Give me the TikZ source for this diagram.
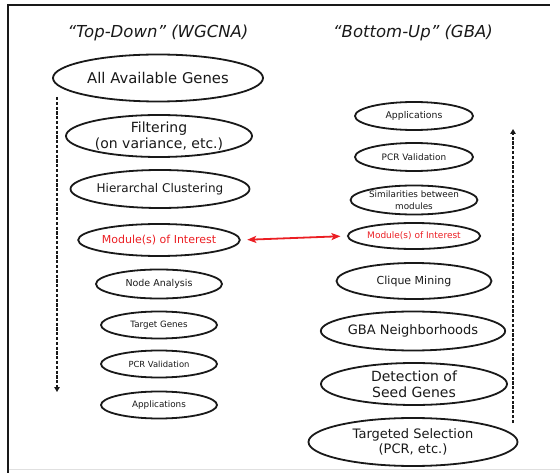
\documentclass[tikz,border=0pt]{standalone}
\usepackage{fontspec}
\setmainfont{DejaVu Sans}
\usetikzlibrary{shapes.geometric,arrows.meta}
\definecolor{ink}{RGB}{25,25,25}
\definecolor{myred}{RGB}{235,30,35}
\tikzset{
  ov/.style args={#1/#2}{ellipse, draw=ink, line width=1.8pt, inner sep=0pt,
    minimum width=#1pt, minimum height=#2pt, align=center, text=ink},
  flowarrow/.style={draw=ink, line width=1.7pt, dash pattern=on 3.2pt off 1.6pt,
    -{Triangle[length=5pt,width=5.5pt]}},
  redarrow/.style={draw=myred, line width=1.8pt,
    {Stealth[length=9pt,width=7pt,inset=2pt]}-{Stealth[length=9pt,width=7pt,inset=2pt]}},
}
\begin{document}
\begin{tikzpicture}[x=1pt,y=-1pt]
\useasboundingbox (0,0) rectangle (560,473);
% frame
\draw[line width=2pt, ink] (7.5,473) -- (7.5,5.5) -- (550,5.5);
\draw[line width=0.6pt, black!12] (8.5,469) -- (560,469);
% titles
\node[text=ink, font=\fontsize{16.5}{18}\selectfont\itshape] (tl) at (158,33) {“Top-Down” (WGCNA)};
\node[text=ink, font=\fontsize{16.5}{18}\selectfont\itshape] (tr) at (413,33) {“Bottom-Up” (GBA)};
% left column
\node[ov=210/47, font=\fontsize{14.8}{16}\selectfont] (L1) at (158,78) {All Available Genes};
\node[ov=186/42, font=\fontsize{14}{16.5}\selectfont] (L2) at (159,136) {Filtering\\(on variance, etc.)};
\node[ov=175/38, font=\fontsize{12}{14}\selectfont] (L3) at (160,189) {Hierarchal Clustering};
\node[ov=155/32, text=myred, font=\fontsize{11}{13}\selectfont] (L4) at (159,240) {Module(s) of Interest};
\node[ov=126/29, font=\fontsize{9.5}{11}\selectfont] (L5) at (159,284) {Node Analysis};
\node[ov=116/27, font=\fontsize{8.7}{10}\selectfont] (L6) at (159,325) {Target Genes};
\node[ov=116/27, font=\fontsize{8.4}{10}\selectfont] (L7) at (159,364) {PCR Validation};
\node[ov=116/27, font=\fontsize{8.8}{10}\selectfont] (L8) at (159,405) {Applications};
% right column
\node[ov=118/28, font=\fontsize{9.3}{11}\selectfont] (R1) at (414,116) {Applications};
\node[ov=118/28, font=\fontsize{8.9}{10}\selectfont] (R2) at (414,157) {PCR Validation};
\node[ov=118/29, font=\fontsize{8.8}{12}\selectfont] (R3) at (414,200) {Similarities between\\modules};
\node[ov=125/26, text=myred, font=\fontsize{9}{10}\selectfont] (R4) at (414,236) {Module(s) of Interest};
\node[ov=155/36, font=\fontsize{11}{13}\selectfont] (R5) at (414,281) {Clique Mining};
\node[ov=171/39, font=\fontsize{13}{15}\selectfont] (R6) at (413,331) {GBA Neighborhoods};
\node[ov=186/42, font=\fontsize{14}{16}\selectfont] (R7) at (414,384) {Detection of\\Seed Genes};
\node[ov=209/48, font=\fontsize{13}{15}\selectfont] (R8) at (413,442) {Targeted Selection\\(PCR, etc.)};
% arrows
\coordinate (la) at (57,97);
\coordinate (lb) at (57,392);
\coordinate (ra) at (513,423);
\coordinate (rb) at (513,129);
\draw[flowarrow] (la) -- (lb);
\draw[flowarrow] (ra) -- (rb);
\draw[redarrow, shorten <=6.5pt, shorten >=6.5pt] (L4.east) -- (R4.west);
\end{tikzpicture}
\end{document}
